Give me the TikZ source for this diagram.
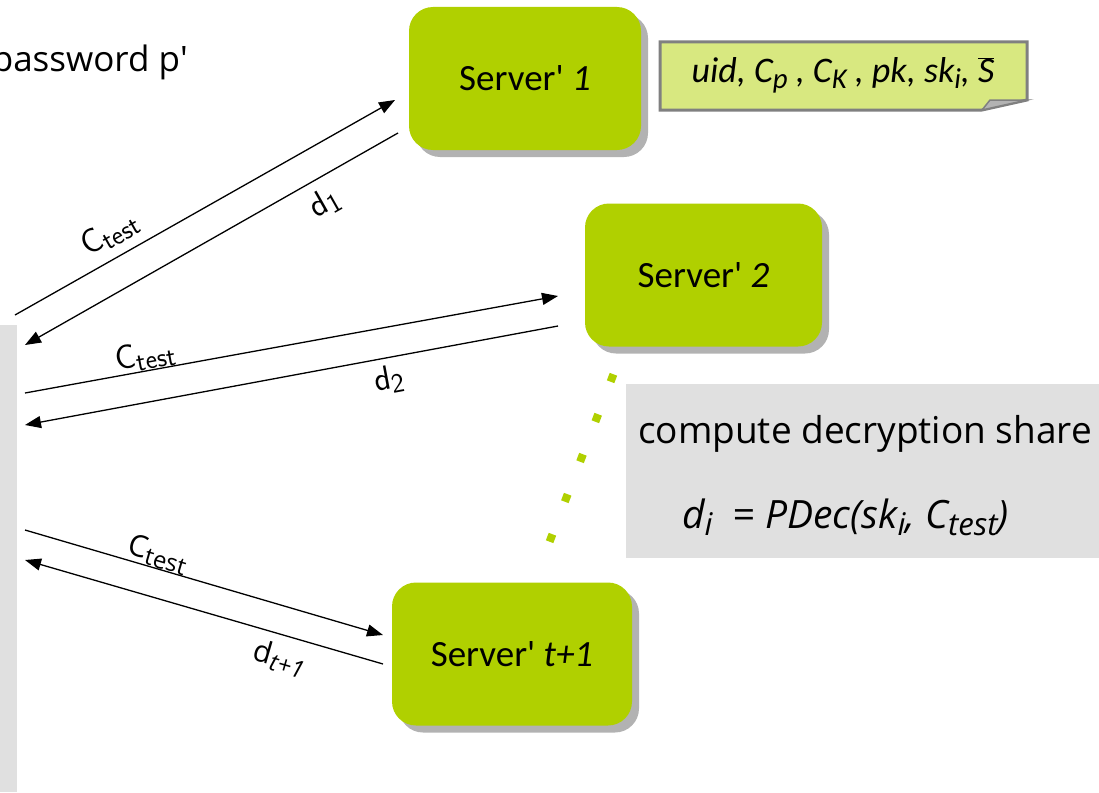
\documentclass[tikz,border=0pt]{standalone}
\usepackage{fontspec}
\setmainfont{Open Sans}
\newfontfamily\calib{Carlito}
\usetikzlibrary{arrows.meta,shadows,calc}
\definecolor{srvgreen}{RGB}{176,208,0}
\definecolor{shadowgray}{RGB}{178,178,178}
\definecolor{notegreen}{RGB}{216,232,128}
\definecolor{notegray}{RGB}{128,128,128}
\definecolor{boxgray}{RGB}{224,224,224}
\newcommand\subsc[1]{\raisebox{-0.32ex}{\scalebox{0.8}{#1}}}
\begin{document}
\begin{tikzpicture}[x=1pt,y=-1pt,
 server/.style={rectangle, rounded corners=24pt, fill=srvgreen, minimum width=232pt, minimum height=143pt,
   font=\calib\fontsize{37}{44}\selectfont,
   drop shadow={shadow xshift=7pt, shadow yshift=-7pt, fill=shadowgray, opacity=1}},
 arr/.style={-{Triangle[length=16pt,width=12pt]}, line width=1.3pt},
 rarr/.style={{Triangle[length=16pt,width=12pt]}-, line width=1.3pt},
 lbl/.style={font=\sffamily\fontsize{34}{38}\selectfont, inner sep=2pt},
 lblb/.style={font=\fontsize{30}{34}\selectfont, inner sep=2pt},
 bigtxt/.style={font=\fontsize{37}{44}\selectfont, inner sep=0pt}
]
\useasboundingbox (0,0) rectangle (1099,792);
% client bar
\node[fill=boxgray, anchor=north west, minimum width=17pt, minimum height=467pt, inner sep=0pt] (client) at (0,325) {};
\node[bigtxt, font=\fontsize{35}{42}\selectfont, anchor=east] (pw) at (188,62) {password p\textquotesingle};
% servers
\node[server] (s1) at (525,78.5) {Server' \textit{1}};
\node[server, minimum width=237pt] (s2) at (703.5,275) {Server' \textit{2}};
\node[server, minimum width=240pt] (s3) at (512,654) {Server' \textit{t+1}};
% note
\fill[notegreen, draw=notegray, line width=3pt, line join=miter]
  (660,42) -- (1027,42) -- (1027,100) -- (982,110) -- (660,110) -- cycle;
\fill[notegray!60, draw=notegray, line width=1.5pt] (982,110) -- (990,100) -- (1027,100) -- cycle;
\node[font=\calib\itshape\fontsize{36}{42}\selectfont, inner sep=0pt] (note) at (843,75)
  {uid, C\subsc{p} , C\subsc{K} , pk, sk\subsc{i}, $\overline{\mbox{\calib\fontsize{36}{42}\selectfont S}}$};
% compute box
\node[fill=boxgray, anchor=north west, minimum width=480pt, minimum height=174pt, inner sep=0pt] (cbox) at (626,384) {};
\node[bigtxt, anchor=west] (ct) at (638,434) {compute decryption share};
\node[bigtxt, anchor=west, font=\itshape\fontsize{39}{46}\selectfont] (ft) at (682,517)
  {d\subsc{i} \ = PDec(sk\subsc{i}, C\subsc{test})};
% dots
\draw[srvgreen, line width=8pt, dash pattern=on 8pt off 34.8pt] ($(612,378)!-4pt!(551,538)$) -- ($(551,538)!-4pt!(612,378)$);
% arrows
\coordinate (c1) at (15,315);  \coordinate (s1in) at (395,100);
\coordinate (c2) at (25,345);  \coordinate (s1out) at (398,133);
\coordinate (c3) at (25,393);  \coordinate (s2in) at (558,296);
\coordinate (c4) at (25,425);  \coordinate (s2out) at (558,326);
\coordinate (c5) at (25,530);  \coordinate (s3in) at (383,635);
\coordinate (c6) at (25,560);  \coordinate (s3out) at (383,664);
\draw[arr] (c1) -- node[lbl, sloped, above, pos=0.28, inner sep=9pt]{C\subsc{test}} (s1in);
\draw[rarr] (c2) -- node[lbl, sloped, below, pos=0.77, inner sep=10pt]{d\subsc{1}} (s1out);
\draw[arr] (c3) -- node[lbl, sloped, above, pos=0.23, inner sep=0pt]{C\subsc{test}} (s2in);
\draw[rarr] (c4) -- node[lbl, sloped, below, pos=0.675, inner sep=7pt]{d\subsc{2}} (s2out);
\draw[arr] (c5) -- node[lblb, sloped, above, pos=0.36, inner sep=0pt]{C\subsc{test}} (s3in);
\draw[rarr] (c6) -- node[lblb, sloped, below, pos=0.73, inner sep=9pt]{d\subsc{\textit{t+1}}} (s3out);
\end{tikzpicture}
\end{document}
